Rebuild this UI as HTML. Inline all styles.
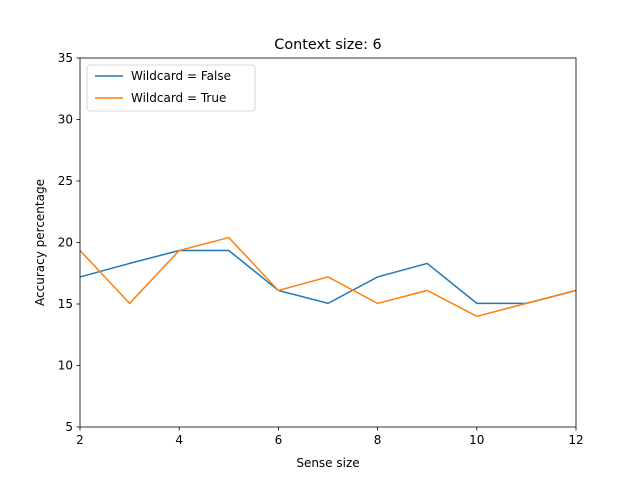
<!DOCTYPE html>
<html><head><meta charset="utf-8"><style>
body{margin:0;background:#fff;font-family:"Liberation Sans","DejaVu Sans",sans-serif;}
svg text{font-family:"DejaVu Sans","Liberation Sans",sans-serif;}
</style></head><body>
<svg id="chart" width="640" height="480" xmlns="http://www.w3.org/2000/svg">
<rect width="640" height="480" fill="#fff"/>
<g id="plot"></g>
</svg>
<script>
const xValues=[2,3,4,5,6,7,8,9,10,11,12];
const seriesFalse=[17.2,18.3,19.35,19.35,16.1,15.05,17.2,18.3,15.05,15.05,16.1];
const seriesTrue=[19.35,15.05,19.35,20.4,16.1,17.2,15.05,16.1,14.0,15.05,16.1];
const xTicks=[2,4,6,8,10,12];
const yTicks=[5,10,15,20,25,30,35];
const L=80,R=576,T=58,B=427;
const xs=v=>L+(v-2)/(12-2)*(R-L);
const ys=v=>B-(v-5)/(35-5)*(B-T);
const NS="http://www.w3.org/2000/svg";
const g=document.getElementById('plot');
function mk(tag,attrs,parent){const e=document.createElementNS(NS,tag);for(const k in attrs)e.setAttribute(k,attrs[k]);(parent||g).appendChild(e);return e;}
function line(vals,color,name){
  const p=mk('polyline',{points:vals.map((v,i)=>xs(xValues[i])+','+ys(v)).join(' '),fill:'none',stroke:color,'stroke-width':1.5});
  
  
}
line(seriesFalse,'#1f77b4','series-wildcard-false');
line(seriesTrue,'#ff7f0e','series-wildcard-true');
const frame=mk('rect',{x:L,y:T,width:R-L,height:B-T,fill:'none',stroke:'#000','stroke-width':0.8});


xTicks.forEach(t=>{
  mk('line',{x1:xs(t),x2:xs(t),y1:B,y2:B+3.5,stroke:'#000','stroke-width':0.8});
  const tx=mk('text',{x:xs(t),y:B+17,'text-anchor':'middle','font-size':12});tx.textContent=t;
  
  
});
yTicks.forEach(t=>{
  mk('line',{x1:L-3.5,x2:L,y1:ys(t),y2:ys(t),stroke:'#000','stroke-width':0.8});
  const tx=mk('text',{x:L-7,y:ys(t)+4,'text-anchor':'end','font-size':12});tx.textContent=t;
  
  
});
const xt=mk('text',{x:(L+R)/2,y:467,'text-anchor':'middle','font-size':12});xt.textContent='Sense size';


const yt=mk('text',{x:44,y:(T+B)/2,'text-anchor':'middle','font-size':12,transform:'rotate(-90 44 '+(T+B)/2+')'});yt.textContent='Accuracy percentage';


const ti=mk('text',{x:(L+R)/2,y:49,'text-anchor':'middle','font-size':14.4});ti.textContent='Context size: 6';


const lg=mk('g',{});


mk('rect',{x:87,y:65,width:168,height:46,rx:3,fill:'#fff',stroke:'#ccc','stroke-width':0.8},lg);
[['Wildcard = False','#1f77b4',76],['Wildcard = True','#ff7f0e',98]].forEach(([lbl,c,y])=>{
  mk('line',{x1:95,x2:123,y1:y,y2:y,stroke:c,'stroke-width':1.5},lg);
  const t=mk('text',{x:131,y:y+4,'font-size':12},lg);t.textContent=lbl;
  
  
});
</script>
</body></html>
